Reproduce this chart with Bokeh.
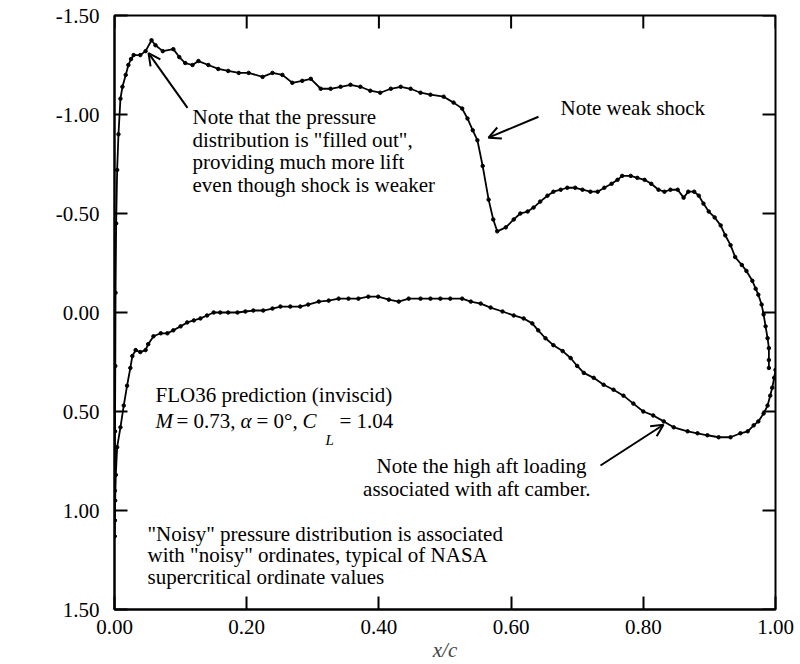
import math
from bokeh.plotting import figure
from bokeh.models import (Range1d, FixedTicker, PrintfTickFormatter,
                          Label, Arrow, OpenHead, ColumnDataSource)
from bokeh.embed import file_html
from bokeh.resources import INLINE

# ---------------- data ----------------
upper_x = [0.000, 0.000, 0.0005, 0.0008, 0.0012, 0.0016, 0.0025, 0.004, 0.006, 0.009,
           0.012, 0.017, 0.021, 0.025, 0.029, 0.039, 0.047, 0.056, 0.062, 0.073,
           0.089, 0.098, 0.107, 0.118, 0.127, 0.142, 0.157, 0.172, 0.188, 0.203,
           0.224, 0.239, 0.254, 0.269, 0.284, 0.297, 0.312, 0.327, 0.342, 0.357,
           0.372, 0.387, 0.402, 0.418, 0.433, 0.448, 0.463, 0.478, 0.498, 0.513,
           0.526, 0.534, 0.542, 0.549, 0.557, 0.566, 0.573, 0.579, 0.592, 0.604,
           0.614, 0.625, 0.634, 0.644, 0.655, 0.664, 0.675, 0.685, 0.697, 0.708,
           0.720, 0.731, 0.741, 0.752, 0.761, 0.768, 0.781, 0.791, 0.802, 0.812,
           0.823, 0.832, 0.841, 0.852, 0.861, 0.868, 0.877, 0.884, 0.891, 0.899,
           0.908, 0.917, 0.924, 0.932, 0.939, 0.949, 0.956, 0.965, 0.970, 0.974,
           0.979, 0.982, 0.985, 0.988, 0.990, 0.990, 0.990]
upper_cp = [1.13, 1.05, 0.90, 0.60, 0.27, -0.10, -0.45, -0.72, -0.90, -1.08,
            -1.14, -1.20, -1.25, -1.28, -1.30, -1.30, -1.32, -1.375, -1.35, -1.32,
            -1.33, -1.29, -1.26, -1.25, -1.27, -1.25, -1.23, -1.22, -1.21, -1.21,
            -1.19, -1.21, -1.20, -1.16, -1.17, -1.18, -1.13, -1.13, -1.14, -1.15,
            -1.14, -1.12, -1.11, -1.13, -1.14, -1.13, -1.11, -1.10, -1.09, -1.06,
            -1.03, -0.98, -0.92, -0.87, -0.74, -0.57, -0.47, -0.41, -0.43, -0.47,
            -0.50, -0.51, -0.53, -0.56, -0.59, -0.61, -0.62, -0.63, -0.63, -0.62,
            -0.61, -0.61, -0.63, -0.65, -0.67, -0.69, -0.69, -0.68, -0.67, -0.65,
            -0.62, -0.61, -0.62, -0.62, -0.58, -0.61, -0.61, -0.59, -0.55, -0.51,
            -0.48, -0.44, -0.39, -0.34, -0.28, -0.24, -0.21, -0.16, -0.12, -0.09,
            -0.04, 0.01, 0.07, 0.13, 0.18, 0.24, 0.28]

lower_x = [0.000, 0.0005, 0.001, 0.002, 0.004, 0.009, 0.014, 0.019, 0.024, 0.027,
           0.032, 0.039, 0.047, 0.051, 0.059, 0.070, 0.080, 0.089, 0.100, 0.110,
           0.120, 0.130, 0.140, 0.150, 0.160, 0.172, 0.186, 0.198, 0.210, 0.225,
           0.239, 0.251, 0.266, 0.281, 0.293, 0.309, 0.324, 0.339, 0.354, 0.369,
           0.384, 0.399, 0.415, 0.430, 0.445, 0.463, 0.478, 0.493, 0.508, 0.526,
           0.539, 0.554, 0.569, 0.587, 0.604, 0.619, 0.632, 0.641, 0.652, 0.664,
           0.678, 0.690, 0.700, 0.710, 0.725, 0.740, 0.755, 0.770, 0.785, 0.800,
           0.815, 0.831, 0.846, 0.867, 0.882, 0.897, 0.914, 0.932, 0.947, 0.958,
           0.967, 0.974, 0.982, 0.988, 0.992, 0.995, 0.998, 1.000]
lower_cp = [1.13, 1.05, 0.95, 0.82, 0.68, 0.58, 0.47, 0.37, 0.28, 0.22,
            0.19, 0.20, 0.19, 0.16, 0.12, 0.105, 0.105, 0.09, 0.07, 0.05,
            0.04, 0.03, 0.015, 0.0, 0.0, 0.0, 0.0, -0.005, -0.01, -0.01,
            -0.02, -0.03, -0.03, -0.03, -0.04, -0.055, -0.06, -0.07, -0.07, -0.07,
            -0.08, -0.08, -0.065, -0.055, -0.07, -0.07, -0.07, -0.07, -0.07, -0.07,
            -0.055, -0.045, -0.025, -0.005, 0.015, 0.03, 0.055, 0.09, 0.13, 0.165,
            0.195, 0.23, 0.27, 0.305, 0.33, 0.365, 0.39, 0.42, 0.46, 0.50,
            0.52, 0.55, 0.58, 0.60, 0.61, 0.62, 0.63, 0.63, 0.61, 0.60,
            0.57, 0.55, 0.51, 0.47, 0.42, 0.38, 0.33, 0.29]

x_ticks = [0.0, 0.2, 0.4, 0.6, 0.8, 1.0]
y_ticks = [-1.5, -1.0, -0.5, 0.0, 0.5, 1.0, 1.5]

FONT = "Liberation Serif"
FS = "21px"

p = figure(width=800, height=664, x_range=Range1d(0, 1), y_range=Range1d(1.5, -1.5),
           output_backend="svg", toolbar_location=None,
           min_border_left=114, min_border_right=25, min_border_top=15, min_border_bottom=51)
p.grid.visible = False
p.outline_line_color = "black"
p.outline_line_width = 2

def style_axis(ax, ticks, standoff):
    ax.ticker = FixedTicker(ticks=ticks)
    ax.axis_line_color = "black"
    ax.axis_line_width = 2
    ax.major_tick_line_color = "black"
    ax.major_tick_line_width = 2
    ax.major_tick_in = 13
    ax.major_tick_out = 0
    ax.minor_tick_line_color = None
    ax.formatter = PrintfTickFormatter(format="%.2f")
    ax.major_label_text_font = FONT
    ax.major_label_text_color = "black"
    ax.major_label_text_font_size = FS
    ax.major_label_standoff = standoff

xa = p.xaxis[0]
style_axis(xa, x_ticks, 10)
xa.axis_label = "x/c"
xa.axis_label_text_font = FONT
xa.axis_label_text_font_style = "italic"
xa.axis_label_text_font_size = FS
xa.axis_label_standoff = 1

ya = p.yaxis[0]
style_axis(ya, y_ticks, 15)

# inward ticks on the top and right edges of the frame
p.ray(x=x_ticks, y=[y_ticks[0]] * len(x_ticks), length=13, length_units="screen",
      angle=-math.pi / 2, line_color="black", line_width=2)
p.ray(x=[x_ticks[-1]] * len(y_ticks), y=y_ticks, length=13, length_units="screen",
      angle=math.pi, line_color="black", line_width=2)

# curves
for xs, ys in ((upper_x, upper_cp), (lower_x, lower_cp)):
    src = ColumnDataSource(dict(x=xs, y=ys))
    p.line("x", "y", source=src, line_color="black", line_width=1.8)
    p.scatter("x", "y", source=src, size=3.5, fill_color="black", line_color="black")

def px(xp):
    return (xp - 114) / 661.0

def py(yp):
    return (yp - 314) / 199.3

def txt(xp, yp, s, style="normal", size=FS, align="left"):
    p.add_layout(Label(x=px(xp), y=py(yp), text=s, text_font=FONT, text_font_size=size,
                       text_font_style=style, text_color="black", text_align=align,
                       text_baseline="middle"))

# y label C_p
txt(28, 292, "C", "italic")
txt(45, 306, "p", "italic", "15px")

# annotation 1
for i, s in enumerate(["Note that the pressure", 'distribution is "filled out",',
                       "providing much more lift", "even though shock is weaker"]):
    txt(192, 117 + 23 * i, s)
# annotation 2
txt(560, 108, "Note weak shock")
# annotation 3
txt(155, 397, "FLO36 prediction (inviscid)")
txt(155, 423, "M", "italic")
txt(176, 423, "= 0.73,")
txt(240, 423, "\u03b1", "italic")
txt(256, 423, "= 0\u00b0,")
txt(302, 423, "C", "italic")
txt(325, 442, "L", "italic", "15px")
txt(339, 423, "= 1.04")
# annotation 4
txt(586, 469, "Note the high aft loading", align="right")
txt(590, 492, "associated with aft camber.", align="right")
# annotation 5
for i, s in enumerate(['"Noisy" pressure distribution is associated',
                       'with "noisy" ordinates, typical of NASA',
                       "supercritical ordinate values"]):
    txt(147, 537 + 21.5 * i, s)

# arrows
for (x0, y0, x1, y1) in ((187, 108, 148, 53), (538, 117, 488, 138), (600, 468, 663, 427)):
    p.add_layout(Arrow(end=OpenHead(size=12, line_width=2, line_color="black"),
                       x_start=px(x0), y_start=py(y0), x_end=px(x1), y_end=py(y1),
                       line_width=2, line_color="black"))

open("out.html", "w").write(file_html(p, INLINE))
